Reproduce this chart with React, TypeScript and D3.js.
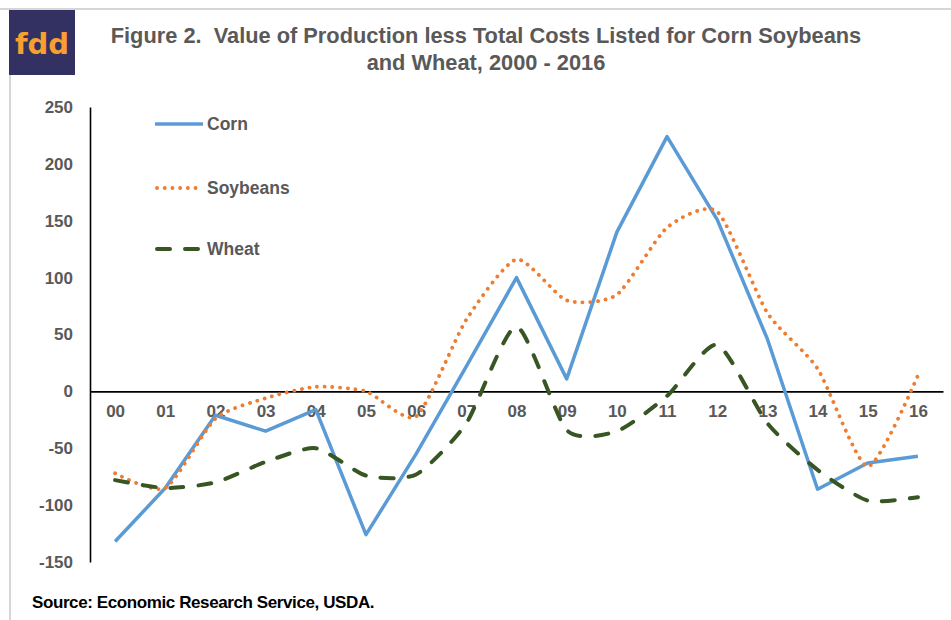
import * as React from 'react';
import * as d3 from 'd3';

const YEARS = ['00', '01', '02', '03', '04', '05', '06', '07', '08', '09', '10', '11', '12', '13', '14', '15', '16'];
const CORN = [-132, -85, -21, -35, -16, -126, -55, 22, 100, 11, 140, 224, 151, 46, -86, -63, -57];
const SOYBEANS = [-72, -85, -24, -6, 4, 0, -22, 63, 116, 80, 85, 144, 158, 69, 20, -66, 14];
const WHEAT = [-78, -85, -80, -62, -50, -74, -73, -28, 57, -34, -35, -4, 41, -28, -69, -96, -93];
const Y_TICKS = [-150, -100, -50, 0, 50, 100, 150, 200, 250];

const FONT = '"Liberation Sans", Arial, sans-serif';
const GREY = '#595959';

const SERIES = [
    { name: 'Corn', values: CORN, color: '#5b9bd5', width: 3.5, dash: null, cap: 'butt', smooth: false },
    { name: 'Soybeans', values: SOYBEANS, color: '#ed7d31', width: 3.8, dash: '0.1 7.6', cap: 'round', smooth: true },
    { name: 'Wheat', values: WHEAT, color: '#375623', width: 4, dash: '13 15', cap: 'round', smooth: true }
];

export default function App() {
    const svgRef = React.useRef<SVGSVGElement>(null);

    React.useEffect(() => {
        const svg = d3.select(svgRef.current);
        svg.selectAll('*').remove();

        /** ******** Frame & logo ********* */
        svg.append('line').attr('x1', 0).attr('x2', 951).attr('y1', 9).attr('y2', 9)
            .attr('stroke', '#c8c8c8').attr('stroke-width', 1.5);
        svg.append('line').attr('x1', 10).attr('x2', 10).attr('y1', 9).attr('y2', 620)
            .attr('stroke', '#c8c8c8').attr('stroke-width', 1.5);
        svg.append('rect').attr('x', 9).attr('y', 10).attr('width', 66).attr('height', 65).attr('fill', '#333162');
        svg.append('text').attr('x', 42).attr('y', 54).attr('text-anchor', 'middle')
            .attr('font-family', '"DejaVu Sans", sans-serif').attr('font-weight', 'bold')
            .attr('font-size', 29).attr('fill', '#f7a030').text('fdd');

        /** ******** Title ********* */
        const title = svg.append('text').attr('text-anchor', 'middle').attr('font-family', FONT)
            .attr('font-weight', 'bold').attr('font-size', 21.8).attr('fill', GREY);
        title.append('tspan').attr('x', 486).attr('y', 43)
            .text('Figure 2.\u00a0 Value of Production less Total Costs Listed for Corn Soybeans');
        title.append('tspan').attr('x', 486).attr('y', 70).text('and Wheat, 2000 - 2016');

        /** ******** Scales ********* */
        const x = d3.scalePoint<string>().domain(YEARS).range([90, 943]).padding(0.5);
        const y = d3.scaleLinear().domain([-150, 250]).range([562, 107]);

        /** ******** Axes ********* */
        const yAxis = svg.append('g').attr('transform', 'translate(90,0)')
            .call(d3.axisLeft(y).tickValues(Y_TICKS).tickSize(0).tickPadding(17).tickFormat(d => String(d)));
        const xAxis = svg.append('g').attr('transform', `translate(0,${y(0)})`)
            .call(d3.axisBottom(x).tickSize(0).tickPadding(14));
        [yAxis, xAxis].forEach(a => {
            a.select('.domain').attr('stroke', '#000').attr('stroke-width', 1.6);
            a.selectAll('text').attr('font-family', FONT).attr('font-weight', 'bold')
                .attr('font-size', 17).attr('fill', GREY);
        });

        /** ******** Lines ********* */
        SERIES.forEach(s => {
            const line = d3.line<number>()
                .x((_, i) => x(YEARS[i])!)
                .y(d => y(d))
                .curve(s.smooth ? d3.curveCardinal.tension(0.35) : d3.curveLinear);
            svg.append('path').datum(s.values).attr('d', line).attr('fill', 'none')
                .attr('stroke', s.color).attr('stroke-width', s.width)
                .attr('stroke-linecap', s.cap).attr('stroke-linejoin', 'round')
                .attr('stroke-dasharray', s.dash);
        });

        /** ******** Legend ********* */
        const LEGEND_Y = [124, 188, 249];
        SERIES.forEach((s, i) => {
            const g = svg.append('g').attr('transform', `translate(155,${LEGEND_Y[i]})`);
            g.append('line').attr('x1', s.cap === 'round' ? 2 : 0).attr('x2', 48)
                .attr('stroke', s.color).attr('stroke-width', s.width)
                .attr('stroke-linecap', s.cap).attr('stroke-dasharray', s.dash);
            g.append('text').attr('x', 52).attr('dy', '0.35em').attr('font-family', FONT)
                .attr('font-weight', 'bold').attr('font-size', 17.5).attr('fill', GREY).text(s.name);
        });

        /** ******** Source ********* */
        svg.append('text').attr('x', 32).attr('y', 608).attr('font-family', FONT)
            .attr('font-weight', 'bold').attr('font-size', 17).attr('fill', '#000')
            .attr('letter-spacing', -0.4).text('Source: Economic Research Service, USDA.');
    }, []);

    return <svg ref={svgRef} width={951} height={620} style={{ position: 'absolute', left: 0, top: 0, background: '#fff' }} />;
}
